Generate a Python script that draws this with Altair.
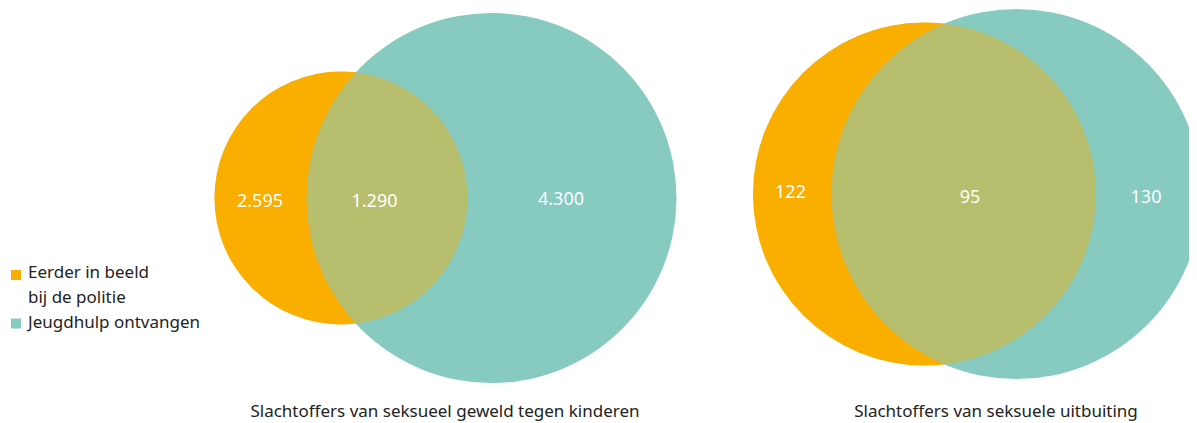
import altair as alt
import pandas as pd

# ---- data ----
sets = ["Eerder in beeld bij de politie", "Jeugdhulp ontvangen"]
legend_lines = ["Eerder in beeld", "bij de politie", "Jeugdhulp ontvangen"]
panel_titles = ["Slachtoffers van seksueel geweld tegen kinderen",
                "Slachtoffers van seksuele uitbuiting"]
# counts: only-police, both, only-youth-care
left_counts = [2595, 1290, 4300]
right_counts = [122, 95, 130]

# ---- layout (page pixels) ----
ORANGE = "#F9AE00"
TEAL = "#86CAC0"
# circle centres and radii per panel: (cx, cy, r) for orange then teal
circ_layout = {
    0: [(341, 198, 126.5), (491.5, 198, 185)],
    1: [(924.5, 194, 171.5), (1016.5, 194, 185)],
}
label_layout = {
    0: [(260, 202), (374.5, 202), (561, 200)],
    1: [(790.5, 193), (970, 197.5), (1146, 197.5)],
}
title_layout = [(445, 417), (996, 417)]

W, H = 1181, 415
xs = alt.Scale(domain=[8, 8 + W], range=[0, W])
ys = alt.Scale(domain=[8, 8 + H], range=[0, H])

def fmt(v):
    return f"{v:,}".replace(",", ".")

rows = []
for p in (0, 1):
    for i, (cx, cy, r) in enumerate(circ_layout[p]):
        rows.append({"panel": p, "set": sets[i], "x": cx, "y": cy,
                     "size": (2 * r) ** 2, "order": i})
circles = pd.DataFrame(rows)

lab_rows = []
for p, counts in ((0, left_counts), (1, right_counts)):
    for (x, y), v in zip(label_layout[p], counts):
        lab_rows.append({"x": x, "y": y, "text": fmt(v)})
labels = pd.DataFrame(lab_rows)

titles = pd.DataFrame({"x": [t[0] for t in title_layout],
                       "y": [t[1] for t in title_layout],
                       "text": panel_titles})

leg = pd.DataFrame({"x": [28, 28, 28], "y": [273, 298, 323],
                    "text": legend_lines})
leg_sq = pd.DataFrame({"x": [16, 16], "y": [275, 323.5], "set": sets})

color = alt.Color("set:N", scale=alt.Scale(domain=sets, range=[ORANGE, TEAL]),
                  legend=None)

base_x = lambda: alt.X("x:Q", scale=xs, axis=None)
base_y = lambda: alt.Y("y:Q", scale=ys, axis=None)

orange_full = alt.Chart(circles).transform_filter("datum.order == 0").mark_circle(
    opacity=1).encode(x=base_x(), y=base_y(),
                      size=alt.Size("size:Q", scale=None), color=color)
teal_full = alt.Chart(circles).transform_filter("datum.order == 1").mark_circle(
    opacity=1).encode(x=base_x(), y=base_y(),
                      size=alt.Size("size:Q", scale=None), color=color)
orange_over = alt.Chart(circles).transform_filter("datum.order == 0").mark_circle(
    opacity=0.43).encode(x=base_x(), y=base_y(),
                         size=alt.Size("size:Q", scale=None), color=color)

num_text = alt.Chart(labels).mark_text(
    font="Noto Sans", fontSize=18, color="white", align="center",
    baseline="middle").encode(x=base_x(), y=base_y(), text="text:N")

title_text = alt.Chart(titles).mark_text(
    font="Noto Sans", fontSize=17, color="#222222", align="center",
    baseline="alphabetic").encode(x=base_x(), y=base_y(), text="text:N")

leg_text = alt.Chart(leg).mark_text(
    font="Noto Sans", fontSize=17, color="#222222", align="left",
    baseline="middle").encode(x=base_x(), y=base_y(), text="text:N")

leg_sym = alt.Chart(leg_sq).mark_square(size=100, opacity=1).encode(
    x=base_x(), y=base_y(), color=color)

chart = alt.layer(orange_full, teal_full, orange_over, num_text, title_text,
                  leg_sym, leg_text).properties(
    width=W, height=H, padding=0,
    autosize=alt.AutoSizeParams(type="none")
).configure_view(stroke=None)

chart.save("out.html", embed_options={"renderer": "svg", "actions": False})
